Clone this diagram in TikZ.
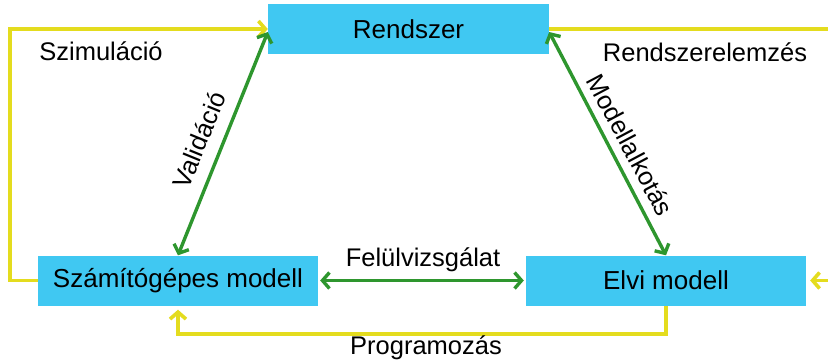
\documentclass[tikz,border=0pt]{standalone}
\usepackage{fontspec}
\setmainfont{Liberation Sans}
\usetikzlibrary{arrows.meta,calc}

\definecolor{boxblue}{RGB}{64,200,242}
\definecolor{flowyellow}{RGB}{228,220,30}
\definecolor{linkgreen}{RGB}{46,150,46}

\tikzset{
  stage/.style={fill=boxblue, draw=none, minimum width=280pt, minimum height=50pt,
    inner sep=0pt, font=\fontsize{26}{30}\selectfont},
  lbl/.style={inner sep=0pt, font=\fontsize{25.5}{30}\selectfont},
  flow/.style={draw=flowyellow, line width=3.6pt, -{Straight Barb[length=7pt, width=16pt]}},
  link/.style={draw=linkgreen, line width=3.4pt, {Straight Barb[length=7pt, width=16pt]}-{Straight Barb[length=7pt, width=16pt]}}
}

\begin{document}
\begin{tikzpicture}[x=1pt, y=-1pt]
  \useasboundingbox (0,0) rectangle (828,360);
  \clip (0,0) rectangle (828,360);

  % stages of the modelling cycle
  \node[stage, minimum width=281pt] (rend) at (408.5,29) {Rendszer};
  \node[stage] (szam) at (178,280.5) {Számítógépes modell};
  \node[stage] (elvi) at (666,280.5) {Elvi modell};

  % outer yellow loop
  \coordinate (lcorner) at (10,280.5);
  \coordinate (rcorner) at (850,29);
  \draw[flow, line join=miter] (szam.west) -- (lcorner) |- (rend.west);
  \draw[flow, shorten >=4pt] (rend.east) -- (rcorner) |- (elvi.east);
  \coordinate (bcorner) at (666,334);
  \draw[flow, shorten >=4pt] (elvi.south) -- (bcorner) -| (szam.south);

  % green two-way links
  \draw[link] ([yshift=-3pt]rend.west) -- (szam.north);
  \draw[link] ([yshift=-3pt]rend.east) -- (elvi.north);
  \draw[link, shorten <=2pt, shorten >=2pt] (szam.east) -- (elvi.west);

  % labels
  \node[lbl] (lsim) at (101,51) {Szimuláció};
  \node[lbl] (lrend) at (705,52) {Rendszerelemzés};
  \node[lbl, rotate=67.8] (lval) at (199,140) {Validáció};
  \node[lbl, rotate=-62] (lmod) at (630.5,145) {Modellalkotás};
  \node[lbl] (lfel) at (423,260) {Felülvizsgálat};
  \node[lbl] (lprog) at (426,348) {Programozás};
\end{tikzpicture}
\end{document}
